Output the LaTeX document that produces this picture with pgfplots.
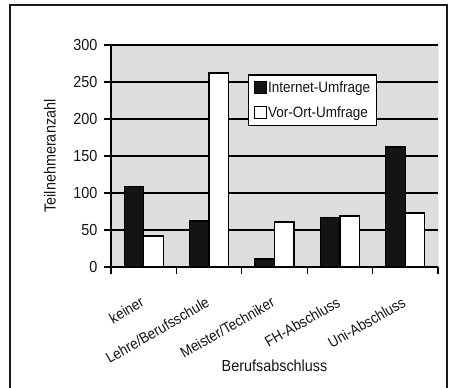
\documentclass[border=0pt]{standalone}
\usepackage{fontspec}
\setmainfont[FakeStretch=0.9]{Liberation Sans}
\usepackage{pgfplots}
\pgfplotsset{compat=1.18}
\definecolor{plotbg}{RGB}{221,221,221}
\definecolor{txt}{RGB}{20,20,20}
\newcommand{\lbl}{\fontsize{16bp}{19bp}\selectfont}
\newcommand{\cat}{\fontsize{15bp}{18bp}\selectfont}
\begin{document}
\begin{tikzpicture}
\useasboundingbox (0,0) rectangle (450bp,388bp);
% outer frame
\draw[line width=2bp, black!90] (10bp,-5bp) -- (10bp,383bp) -- (447bp,383bp) -- (447bp,-5bp);
\begin{axis}[
  at={(111bp,121bp)}, anchor=south west,
  width=327bp, height=222bp, scale only axis,
  xmin=-0.5, xmax=4.5, ymin=0, ymax=300,
  axis lines*=left,
  axis line style={line width=1.4bp, black},
  axis background/.style={fill=plotbg},
  ytick={0,50,...,300},
  ymajorgrids,
  major grid style={line width=1.3bp, black},
  tick align=outside,
  major tick length=7bp,
  ytick style={line width=1.3bp, black},
  xtick={0,1,2,3,4},
  major x tick style={draw=none},
  minor xtick={-0.5,0.5,1.5,2.5,3.5,4.5},
  minor x tick style={line width=1.3bp, black},
  minor tick length=7bp,
  xticklabels={keiner,Lehre/Berufsschule,Meister/Techniker,FH-Abschluss,Uni-Abschluss},
  /pgf/number format/assume math mode=true,
  yticklabel style={font=\lbl, text=txt, xshift=-3bp},
  xticklabel style={font=\cat, text=txt, inner sep=0pt, xshift=-4bp, yshift=-22bp, rotate=30, anchor=north east},
  xlabel={Berufsabschluss},
  ylabel={Teilnehmeranzahl},
  xlabel style={font=\lbl, text=txt, at={(axis description cs:0.5,-0.446)}, anchor=center},
  ylabel style={font=\lbl, text=txt, at={(axis description cs:-0.1865,0.5)}, anchor=center},
  legend style={at={(rel axis cs:0.419,0.868)}, anchor=north west,
    draw=black, line width=1.2bp, fill=white, font=\cat, text=txt,
    inner xsep=5bp, inner ysep=4.5bp, row sep=9bp,
    nodes={inner xsep=1.5bp}},
  legend cell align=left,
  legend image code/.code={\draw[#1, line width=1bp] (0bp,-6bp) rectangle (12bp,6bp);},
]
\addplot[ybar, bar width=19.5bp, bar shift=-9.75bp, fill=black!92, draw=black, line width=1.3bp]
  coordinates {(0,109) (1,62) (2,11) (3,67) (4,162)};
\addplot[ybar, bar width=19.5bp, bar shift=9.75bp, fill=white, draw=black, line width=1.3bp]
  coordinates {(0,42) (1,262) (2,61) (3,69) (4,73)};
\legend{Internet-Umfrage,Vor-Ort-Umfrage}
\draw[gray!75, line width=0.8bp] (rel axis cs:1,0) -- (rel axis cs:1,1);
\end{axis}
\end{tikzpicture}
\end{document}
